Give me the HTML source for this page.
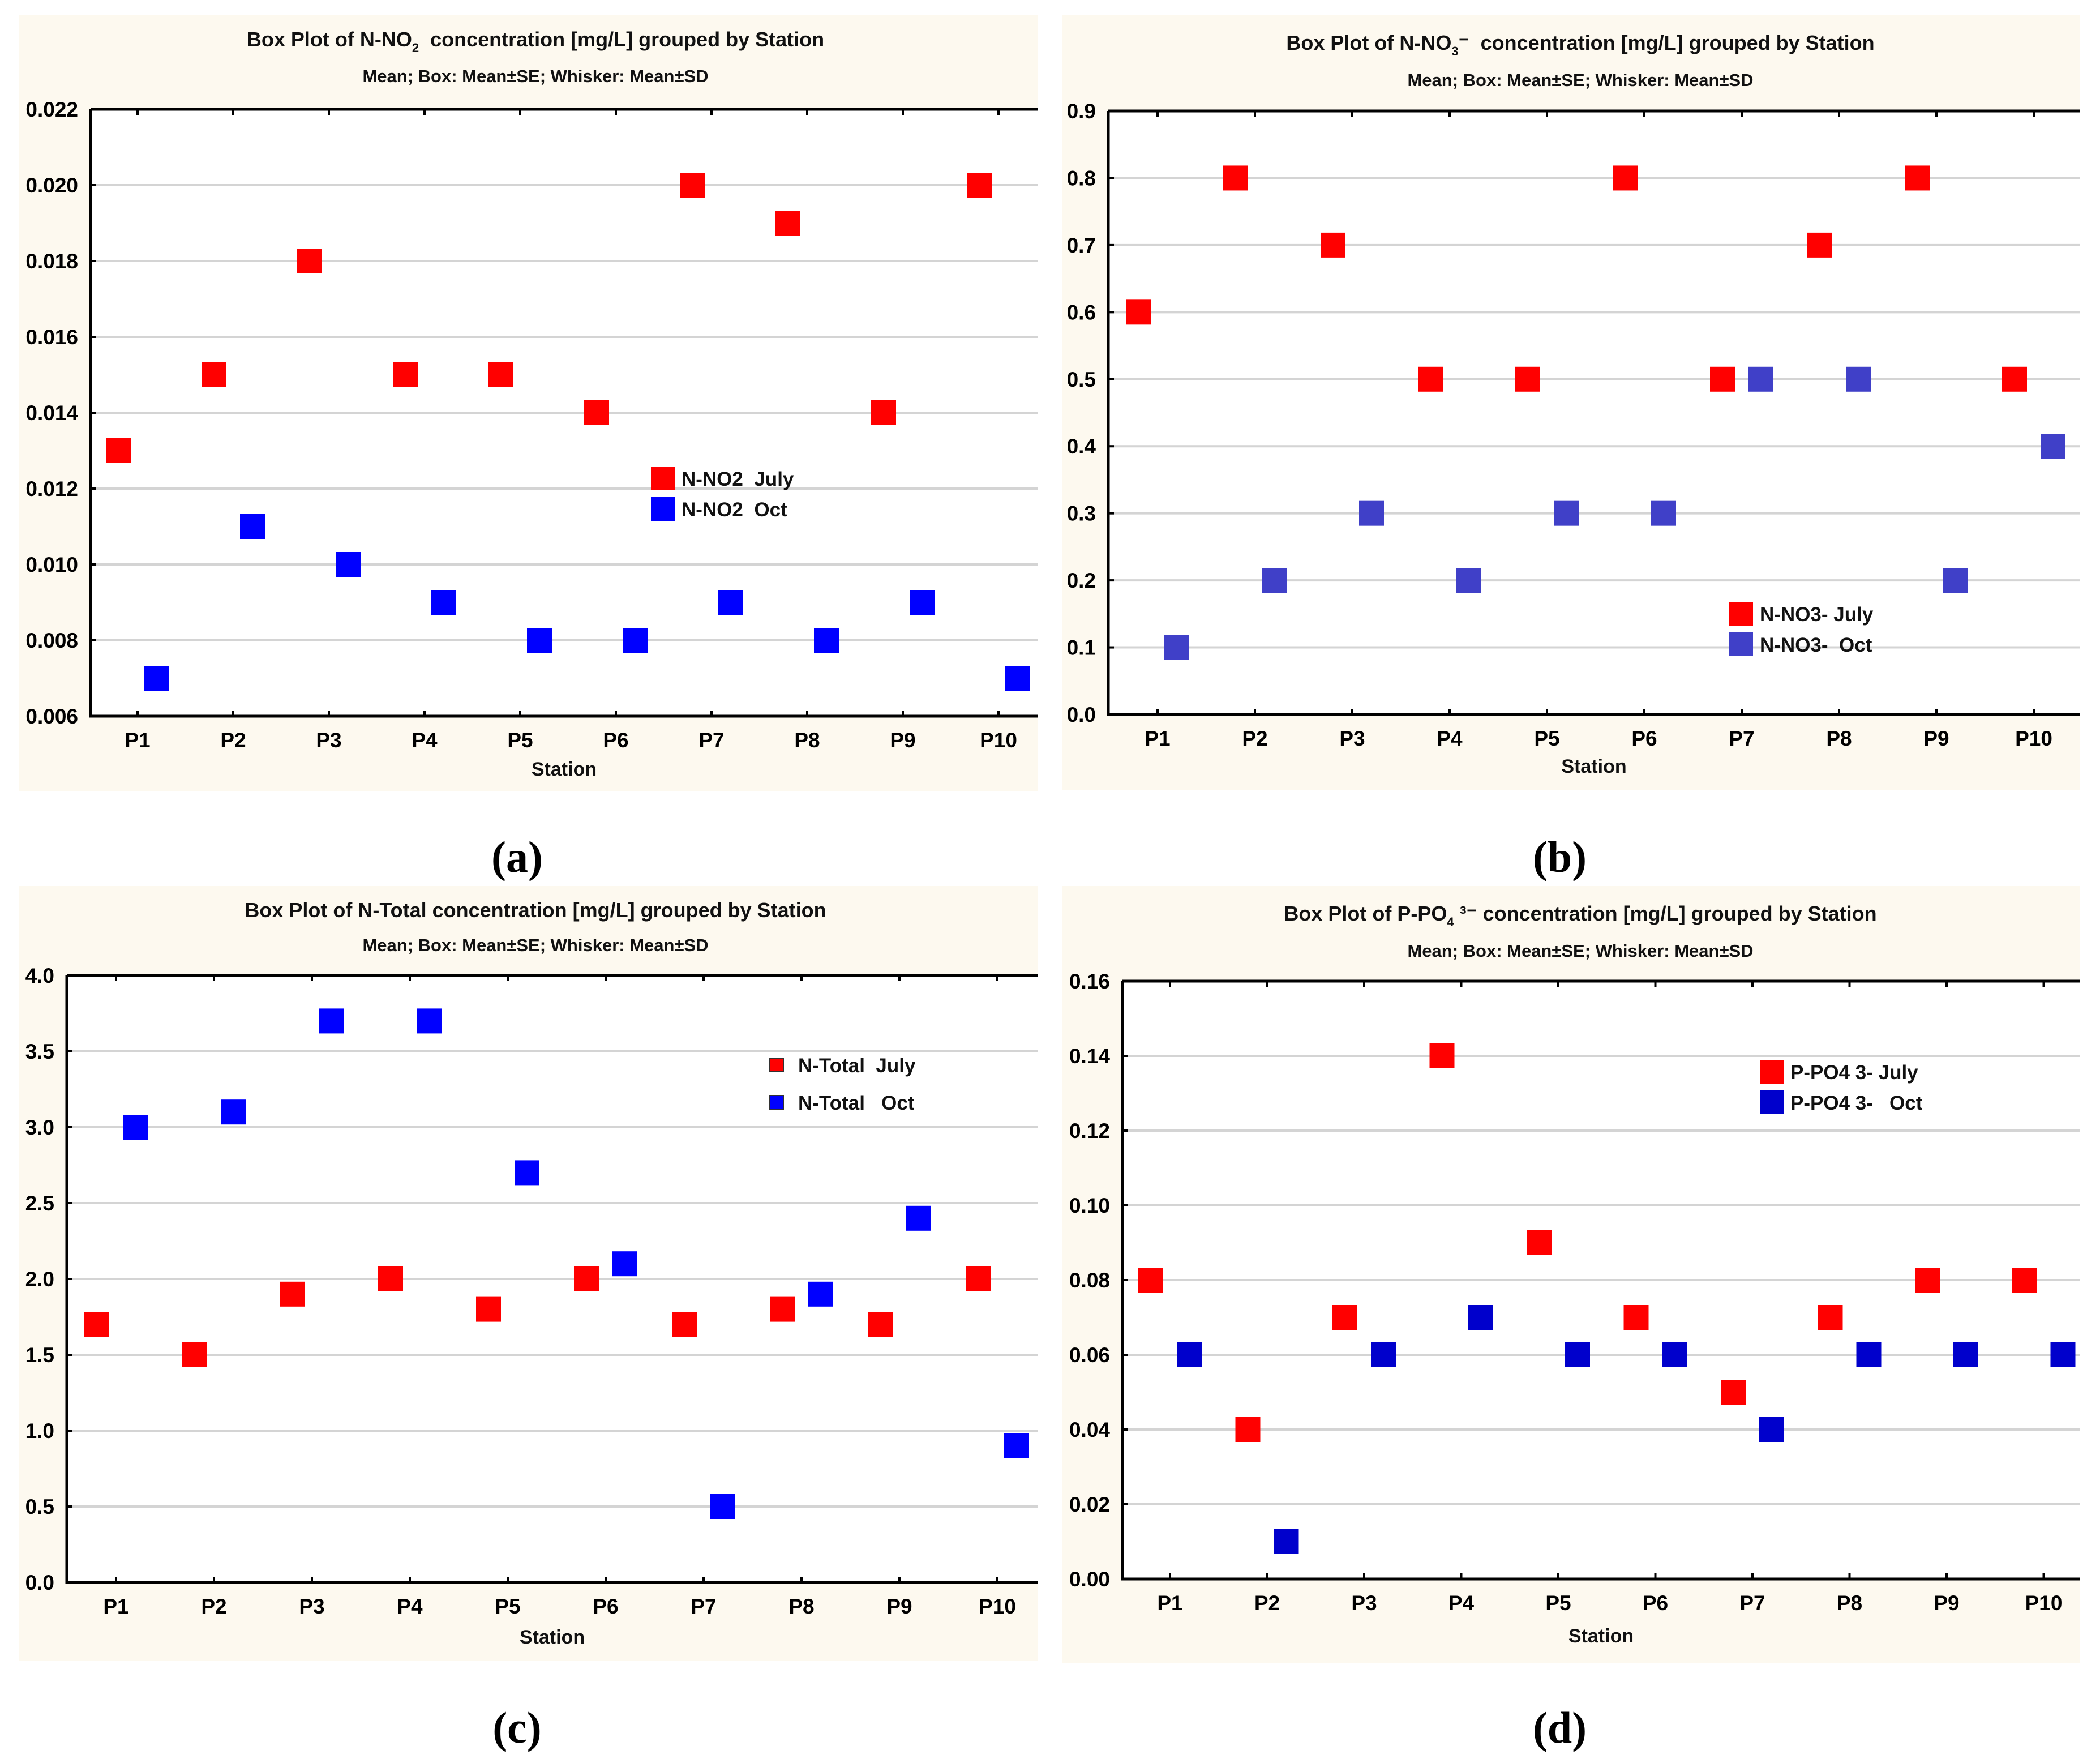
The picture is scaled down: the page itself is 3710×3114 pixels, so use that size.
<!DOCTYPE html>
<html><head><meta charset="utf-8">
<style>
html,body{margin:0;padding:0;background:#fff;}
svg{display:block;font-family:"Liberation Sans",Arial,sans-serif;}
svg text{white-space:pre;}
</style></head>
<body>
<svg id="fig" width="3710" height="3114" viewBox="0 0 3710 3114" xmlns="http://www.w3.org/2000/svg"></svg>
<script>
const stations = ["P1","P2","P3","P4","P5","P6","P7","P8","P9","P10"];
const no2July = [0.013,0.015,0.018,0.015,0.015,0.014,0.020,0.019,0.014,0.020];
const no2Oct  = [0.007,0.011,0.010,0.009,0.008,0.008,0.009,0.008,0.009,0.007];
const no2Ticks = ["0.006","0.008","0.010","0.012","0.014","0.016","0.018","0.020","0.022"];
const no3July = [0.6,0.8,0.7,0.5,0.5,0.8,0.5,0.7,0.8,0.5];
const no3Oct  = [0.1,0.2,0.3,0.2,0.3,0.3,0.5,0.5,0.2,0.4];
const no3Ticks = ["0.0","0.1","0.2","0.3","0.4","0.5","0.6","0.7","0.8","0.9"];
const ntotJuly = [1.7,1.5,1.9,2.0,1.8,2.0,1.7,1.8,1.7,2.0];
const ntotOct  = [3.0,3.1,3.7,3.7,2.7,2.1,0.5,1.9,2.4,0.9];
const ntotTicks = ["0.0","0.5","1.0","1.5","2.0","2.5","3.0","3.5","4.0"];
const po4July = [0.08,0.04,0.07,0.14,0.09,0.07,0.05,0.07,0.08,0.08];
const po4Oct  = [0.06,0.01,0.06,0.07,0.06,0.06,0.04,0.06,0.06,0.06];
const po4Ticks = ["0.00","0.02","0.04","0.06","0.08","0.10","0.12","0.14","0.16"];

const NS="http://www.w3.org/2000/svg";
const svg=document.getElementById('fig');
function el(tag,attrs,parent,text){const e=document.createElementNS(NS,tag);for(const k in attrs)e.setAttribute(k,attrs[k]);if(text!==undefined)e.textContent=text;(parent||svg).appendChild(e);return e;}

const panels=[
 {id:'a',bg:[34,27,1833,1398],plot:[160,193,1833,1265],p1:243,step:169,ticks:no2Ticks,july:no2July,oct:no2Oct,
  title:['Box Plot of N-NO','2','  concentration [mg/L] grouped by Station'],tx:946,ty:82,sy:145,xlab:1358,lab:'(a)',
  leg:[1171,845,899,1204],legText:['N-NO2  July','N-NO2  Oct'],blue:'#0000ff',legSize:42},
 {id:'b',bg:[1877,27,3674,1396],plot:[1958,196,3674,1262],p1:2045,step:172,ticks:no3Ticks,july:no3July,oct:no3Oct,
  title:['Box Plot of N-NO','3','⁻  concentration [mg/L] grouped by Station'],tx:2792,ty:88,sy:152,xlab:1353,lab:'(b)',
  leg:[3076,1084,1138,3109],legText:['N-NO3- July','N-NO3-  Oct'],blue:'#4040c8',legSize:42},
 {id:'c',bg:[34,1565,1833,2934],plot:[118,1723,1833,2795],p1:205,step:173,ticks:ntotTicks,july:ntotJuly,oct:ntotOct,
  title:['Box Plot of N-Total concentration [mg/L] grouped by Station','',''],tx:946,ty:1620,sy:1680,xlab:2891,lab:'(c)',
  leg:[1372,1881,1947,1410],legText:['N-Total  July','N-Total   Oct'],blue:'#0000ff',legSize:24},
 {id:'d',bg:[1877,1565,3674,2937],plot:[1983,1733,3674,2789],p1:2067,step:171.5,ticks:po4Ticks,july:po4July,oct:po4Oct,
  title:['Box Plot of P-PO','4',' ³⁻ concentration [mg/L] grouped by Station'],tx:2792,ty:1626,sy:1690,xlab:2889,lab:'(d)',
  leg:[3130,1893,1947,3163],legText:['P-PO4 3- July','P-PO4 3-   Oct'],blue:'#0000cc',legSize:42}
];

panels.forEach(p=>{
  const g=el('g',{});
  
  
  const [bx0,by0,bx1,by1]=p.bg;
  const bg=el('rect',{x:bx0,y:by0,width:bx1-bx0,height:by1-by0,fill:'#fdf9ef'},g);
  
  
  const [px0,py0,px1,py1]=p.plot;
  const pr=el('rect',{x:px0,y:py0,width:px1-px0,height:py1-py0,fill:'#fff'},g);
  
  
  const vmin=parseFloat(p.ticks[0]),vmax=parseFloat(p.ticks[p.ticks.length-1]);
  const yScale=v=>py1-(v-vmin)/(vmax-vmin)*(py1-py0);
  const xScale=i=>p.p1+i*p.step;
  p.ticks.forEach(t=>{
    const y=yScale(parseFloat(t));
    if(y>py0+2&&y<py1-2){const gl=el('line',{x1:px0,x2:px1,y1:y,y2:y,stroke:'#d4d4d4','stroke-width':4},g);
      
      }
    el('line',{x1:px0,x2:px0+10,y1:y,y2:y,stroke:'#000','stroke-width':4},g);
    const tl=el('text',{x:px0-22,y:y+13,'text-anchor':'end','font-size':37,'font-weight':'bold',fill:'#000'},g,t);
    
    
  });
  const ax=el('path',{d:`M${px0} ${py0}H${px1}M${px0} ${py0}V${py1}H${px1}`,stroke:'#000','stroke-width':5,fill:'none'},g);
  
  
  stations.forEach((s,i)=>{
    const x=xScale(i);
    el('line',{x1:x,x2:x,y1:py1,y2:py1-10,stroke:'#000','stroke-width':4},g);
    el('line',{x1:x,x2:x,y1:py0,y2:py0+10,stroke:'#000','stroke-width':4},g);
    const xl=el('text',{x:x,y:py1+55,'text-anchor':'middle','font-size':37,'font-weight':'bold',fill:'#000'},g,s);
    
    
  });
  const sz=44;
  p.july.forEach((v,i)=>{
    const r=el('rect',{x:xScale(i)-34-sz/2,y:yScale(v)-sz/2,width:sz,height:sz,fill:'#ff0000'},g);
    
    
  });
  p.oct.forEach((v,i)=>{
    const r=el('rect',{x:xScale(i)+34-sz/2,y:yScale(v)-sz/2,width:sz,height:sz,fill:p.blue},g);
    
    
  });
  const tt=el('text',{x:p.tx,y:p.ty,'text-anchor':'middle','font-size':36,'font-weight':'bold',fill:'#111'},g);
  
  
  el('tspan',{},tt,p.title[0]);
  if(p.title[1]){el('tspan',{'font-size':22,dy:10},tt,p.title[1]);el('tspan',{dy:-10},tt,p.title[2]);}
  const st=el('text',{x:p.tx,y:p.sy,'text-anchor':'middle','font-size':31,'font-weight':'bold',fill:'#111'},g,'Mean; Box: Mean±SE; Whisker: Mean±SD');
  
  
  const xt=el('text',{x:(px0+px1)/2,y:p.xlab+12,'text-anchor':'middle','font-size':34,'font-weight':'bold',fill:'#111'},g,'Station');
  
  
  const [lx,ly1,ly2,ltx]=p.leg;const ls=p.legSize;
  [[ly1,'#ff0000',p.legText[0],'july'],[ly2,p.blue,p.legText[1],'oct']].forEach(([ly,c,t,k])=>{
    const lr=el('rect',{x:lx-ls/2,y:ly-ls/2,width:ls,height:ls,fill:c,stroke:ls<30?'#333':'none','stroke-width':2},g);
    
    
    const lt=el('text',{x:ltx,y:ly+13,'font-size':35,'font-weight':'bold',fill:'#111'},g,t);
    
    
  });
  const pl=el('text',{x:(bx0+bx1)/2-20,y:p.id==='a'||p.id==='b'?1540:3078,'text-anchor':'middle','font-size':78,'font-weight':'bold','font-family':'"Liberation Serif",serif',fill:'#000'},svg,p.lab);
  
  
});
</script>
</body></html>
